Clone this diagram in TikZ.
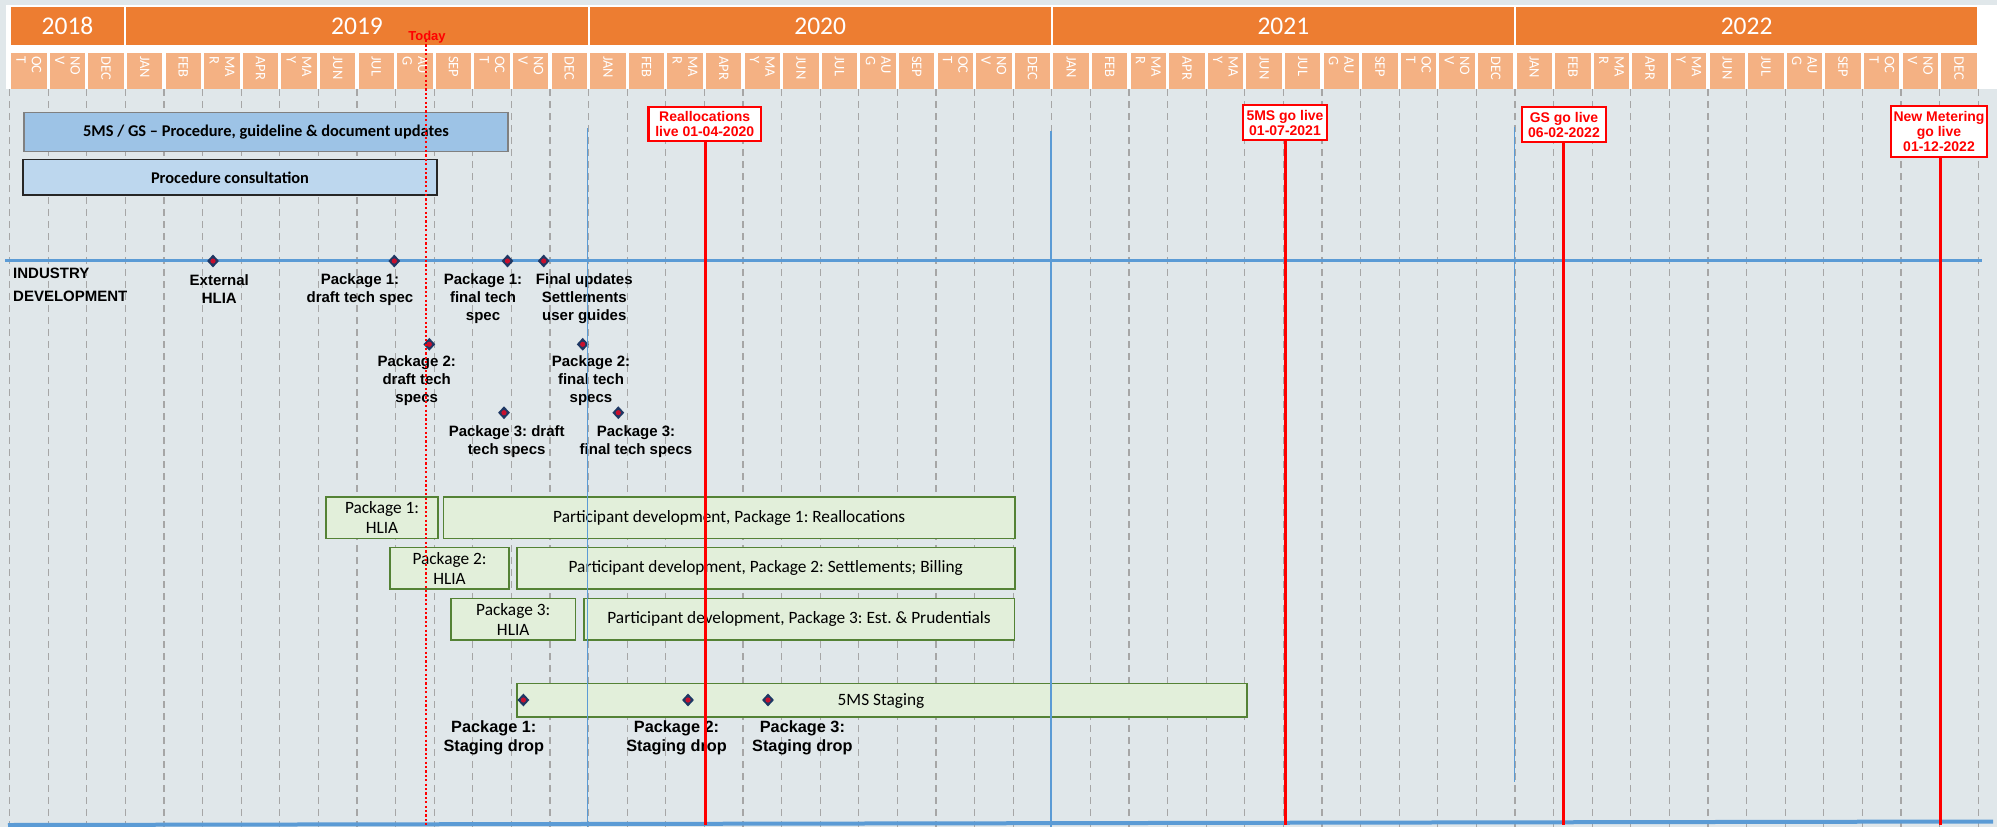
\documentclass[tikz,border=0pt]{standalone}
\usepackage{fontspec}
\setmainfont{Liberation Sans}
\newfontfamily\calfont{Carlito}
\usetikzlibrary{shapes.geometric}
\definecolor{bgc}{HTML}{E0E7EA}
\definecolor{orangec}{HTML}{ED7D31}
\definecolor{monthc}{HTML}{F4B183}
\definecolor{gridc}{HTML}{A6A6A6}
\definecolor{bluec}{HTML}{5B9BD5}
\definecolor{boxblue}{HTML}{9DC3E6}
\definecolor{boxlight}{HTML}{BDD7EE}
\definecolor{greenfill}{HTML}{E2EFDA}
\definecolor{greenline}{HTML}{548235}
\definecolor{navyc}{HTML}{1F3864}
\definecolor{dotred}{HTML}{C8102E}
\frenchspacing
\begin{document}
\begin{tikzpicture}[x=1pt,y=-1pt,
  yearbox/.style={fill=orangec, draw=none, minimum height=37.7, inner sep=0, text=white, font=\calfont\fontsize{25.5}{30}\selectfont},
  monthbox/.style={fill=monthc, draw=none, minimum width=35.4, minimum height=36.6, inner sep=0},
  monthlab/.style={rotate=-90, anchor=west, text=white, align=left, inner sep=0, font=\calfont\fontsize{14.5}{15.5}\selectfont},
  gridl/.style={draw=gridc, line width=1.3, dash pattern=on 7pt off 5pt},
  yearl/.style={draw=bluec, line width=1.4},
  bluebox/.style={draw=gray, line width=1.2, fill=boxblue, inner sep=0, font=\calfont\bfseries\fontsize{16.4}{18}\selectfont},
  consbox/.style={draw=black!85, line width=1.2, fill=boxlight, inner sep=0, font=\calfont\bfseries\fontsize{16.4}{18}\selectfont},
  greenbox/.style={draw=greenline, line width=1.6, fill=greenfill, inner sep=0, align=center, font=\calfont\fontsize{17.3}{20}\selectfont},
  milestone/.style={draw=red, line width=2.2, fill=white, text=red, align=center, inner sep=0, font=\bfseries\fontsize{14}{15}\selectfont},
  redl/.style={draw=red, line width=3},
  lab/.style={align=center, inner sep=0, font=\bfseries\fontsize{15}{18}\selectfont},
  stlab/.style={align=center, inner sep=0, font=\bfseries\fontsize{16.3}{19}\selectfont},
  msdia/.style={diamond, fill=navyc, inner sep=0, minimum width=12, minimum height=13,
    path picture={\fill[dotred] (path picture bounding box.center) circle (2.6pt);}}
]
\useasboundingbox (0,0) rectangle (1997,827);
\fill[bgc] (0,0) rectangle (1997,827);
\fill[white] (6,5) rectangle (1997,89.3);

% year bar
\foreach \yr/\a/\b in {2018/0/3, 2019/3/15, 2020/15/27, 2021/27/39, 2022/39/51} {
  \pgfmathsetmacro\xa{9.6+38.6*\a+1}
  \pgfmathsetmacro\xb{9.6+38.6*\b-1}
  \pgfmathsetmacro\xc{(\xa+\xb)/2}
  \pgfmathsetmacro\bw{\xb-\xa}
  \node[yearbox, minimum width=\bw] (y\yr) at (\xc,26.2) {\yr};
}

% month row
\foreach \lab [count=\i from 0] in {OC\\T,NO\\V,DEC,
  JAN,FEB,MA\\R,APR,MA\\Y,JUN,JUL,AU\\G,SEP,OC\\T,NO\\V,DEC,
  JAN,FEB,MA\\R,APR,MA\\Y,JUN,JUL,AU\\G,SEP,OC\\T,NO\\V,DEC,
  JAN,FEB,MA\\R,APR,MA\\Y,JUN,JUL,AU\\G,SEP,OC\\T,NO\\V,DEC,
  JAN,FEB,MA\\R,APR,MA\\Y,JUN,JUL,AU\\G,SEP,OC\\T,NO\\V,DEC} {
  \pgfmathsetmacro\xc{9.6+38.6*\i+19.3}
  \node[monthbox] (mb\i) at (\xc,71) {};
  \node[monthlab] (ml\i) at (\xc,56) {\lab};
}

% grid
\foreach \m in {0,...,51} {
  \draw[gridl] ({9.6+38.6*\m},89.3) -- ({9.6+38.6*\m},827);
}

% industry line and bottom line
\coordinate (indL) at (5,260.3);
\coordinate (indR) at (1982,260.3);
\draw[bluec, line width=3] (indL) -- (indR);
\coordinate (botL) at (8,825);
\coordinate (botR) at (1993,821.5);
\draw[bluec, line width=4] (botL) -- (botR);

% top boxes
\node[bluebox, minimum width=484, minimum height=39] (upd) at (266,132.2) {5MS / GS \textendash{} Procedure, guideline \& document updates};
\node[consbox, minimum width=414, minimum height=35.3] (cons) at (230,177.4) {Procedure consultation};

\node[anchor=west, align=left, inner sep=0, font=\bfseries\fontsize{15}{22.7}\selectfont] (ind) at (13,284.7) {INDUSTRY\\DEVELOPMENT};

% diamonds and labels
\node[msdia] (d1) at (213,261) {};
\node[msdia] (d2) at (394.3,261) {};
\node[msdia] (d3) at (507.5,261) {};
\node[msdia] (d4) at (543.7,261) {};
\node[msdia] (d5) at (429.3,344.3) {};
\node[msdia] (d6) at (582.7,344.3) {};
\node[msdia] (d7) at (504,412.7) {};
\node[msdia] (d8) at (618.3,412.7) {};

\node[lab] (l1) at (219.3,289.5) {External\\HLIA};
\node[lab] (l2) at (360,289.5) {Package 1:\\draft tech spec};
\node[lab] (l3) at (483,298.5) {Package 1:\\final tech\\spec};
\node[lab] (l4) at (584.3,298.5) {Final updates\\Settlements\\user guides};
\node[lab] (l5) at (416.7,380.5) {Package 2:\\draft tech\\specs};
\node[lab] (l6) at (591,380.5) {Package 2:\\final tech\\specs};
\node[lab] (l7) at (506.7,441.5) {Package 3: draft\\tech specs};
\node[lab] (l8) at (636,441.5) {Package 3:\\final tech specs};

% green boxes
\node[greenbox, minimum width=111.5, minimum height=41.6] (h1) at (382,517.5) {Package 1:\\HLIA};
\node[greenbox, minimum width=571.5, minimum height=41.6] (p1) at (729.2,517.5) {Participant development, Package 1: Reallocations};
\node[greenbox, minimum width=119, minimum height=41.4] (h2) at (449.5,568) {Package 2:\\HLIA};
\node[greenbox, minimum width=498, minimum height=41.4] (p2) at (765.7,568) {Participant development, Package 2: Settlements; Billing};
\node[greenbox, minimum width=124.5, minimum height=41.7] (h3) at (513.2,619.2) {Package 3:\\HLIA};
\node[greenbox, minimum width=430.6, minimum height=41.7] (p3) at (799,619.2) {Participant development, Package 3: Est. \& Prudentials};
\node[greenbox, minimum width=730.3, minimum height=33.4] (stg) at (881.9,700) {\hspace*{0pt}};
\node[inner sep=0, font=\calfont\fontsize{17.3}{20}\selectfont] (stgt) at (881,701) {5MS Staging};

\node[msdia] (s1) at (523.4,700) {};
\node[msdia] (s2) at (688,700) {};
\node[msdia] (s3) at (768,700) {};
\node[stlab] (sl1) at (493.8,737.5) {Package 1:\\Staging drop};
\node[stlab] (sl2) at (676.5,737.5) {Package 2:\\Staging drop};
\node[stlab] (sl3) at (802.4,737.5) {Package 3:\\Staging drop};

% year boundary lines
\draw[yearl] (587.3,128) -- (587.3,827);
\draw[yearl] (1051,130.7) -- (1051,827);
\draw[yearl] (1514.5,126.7) -- (1514.5,782);

% milestones
\node[milestone, minimum width=112.5, minimum height=33.4] (m1) at (704.7,124) {Reallocations\\live 01-04-2020};
\node[milestone, minimum width=84, minimum height=34.7] (m2) at (1285,122.6) {5MS go live\\01-07-2021};
\node[milestone, minimum width=84, minimum height=35] (m3) at (1564,124.8) {GS go live\\06-02-2022};
\node[milestone, minimum width=96, minimum height=50.4] (m4) at (1939,131.5) {New Metering\\go live\\01-12-2022};
\coordinate (e1) at (705.6,825);
\coordinate (e2) at (1285.7,825);
\coordinate (e3) at (1563,825);
\coordinate (e4) at (1940.4,825);
\draw[redl] (m1.south -| e1) -- (e1);
\draw[redl] (m2.south -| e2) -- (e2);
\draw[redl] (m3.south -| e3) -- (e3);
\draw[redl] (m4.south -| e4) -- (e4);

% today
\node[text=red, inner sep=0, font=\bfseries\fontsize{13}{15}\selectfont] (today) at (427,36.7) {Today};
\coordinate (tb) at (426,827);
\draw[red, line width=2.2, dash pattern=on 2.2pt off 2.2pt] (426,40) -- (tb);
\end{tikzpicture}
\end{document}
